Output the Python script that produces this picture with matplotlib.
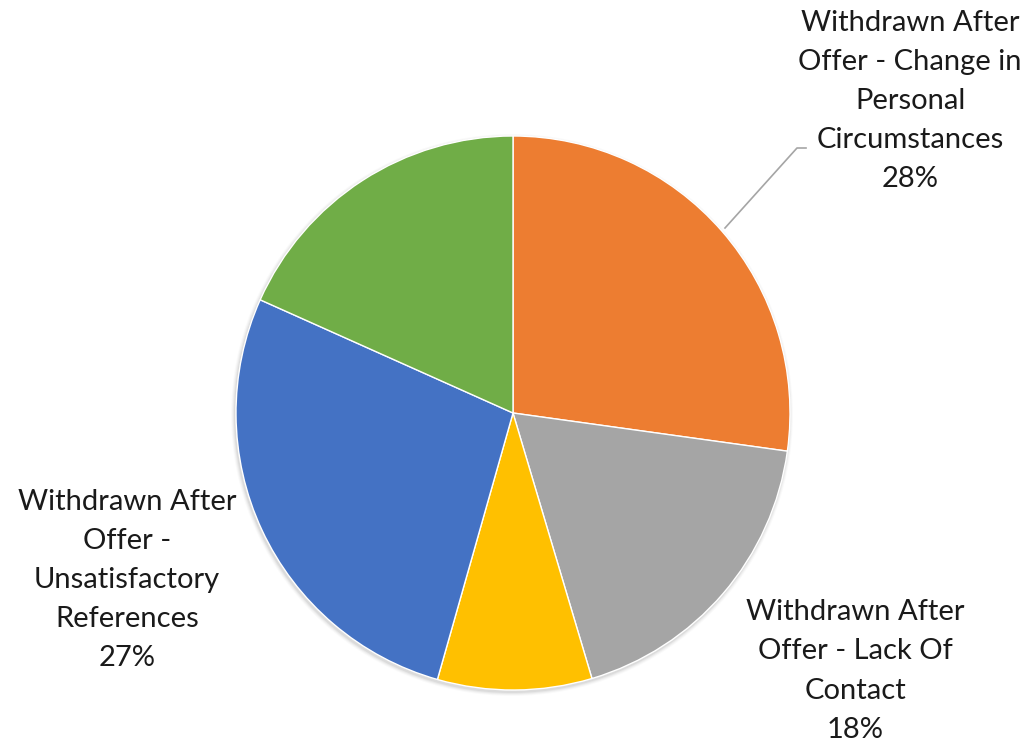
import matplotlib
matplotlib.use("Agg")
import matplotlib.pyplot as plt
from matplotlib.patches import Circle

categories = [
    "Withdrawn After\nOffer - Change in\nPersonal\nCircumstances",
    "Withdrawn After\nOffer - Lack Of\nContact",
    "Other A",
    "Withdrawn After\nOffer -\nUnsatisfactory\nReferences",
    "Other B",
]
# wedge sizes
values = [27.2, 18.2, 9.0, 27.3, 18.3]
# percentage labels as printed on the chart
pct_labels = ["28%", "18%", "", "27%", ""]
colors = ["#ED7D31", "#A5A5A5", "#FFC000", "#4472C4", "#70AD47"]

W, H = 1030, 747
fig = plt.figure(figsize=(W / 100, H / 100), dpi=100)
ax = fig.add_axes([0, 0, 1, 1])
ax.set_xlim(0, W)
ax.set_ylim(0, H)
ax.set_aspect("equal")
ax.axis("off")

cx, cy, r = 513, H - 413, 277

# faint soft shadow
for i, a in enumerate([0.05, 0.04, 0.03, 0.02]):
    ax.add_patch(Circle((cx - 1, cy - 2), r + 1 + i, color="black", alpha=a, lw=0, zorder=0))

wedges, _ = ax.pie(values, colors=colors, startangle=90, counterclock=False,
                   center=(cx, cy), radius=r,
                   wedgeprops=dict(edgecolor="white", linewidth=1.0, zorder=1))
ax.set_xlim(0, W)
ax.set_ylim(0, H)

fp = dict(family=["Lato", "DejaVu Sans"], fontsize=21, color="#1a1a1a",
          ha="center", va="center", linespacing=1.62)

ax.text(910, H - 101, categories[0] + "\n" + pct_labels[0], **fp)
ax.text(855, H - 671, categories[1] + "\n" + pct_labels[1], **fp)
ax.text(127, H - 580, categories[3] + "\n" + pct_labels[3], **fp)

# leader line for orange label
ax.plot([725, 797, 806], [H - 228, H - 148, H - 148], color="#A5A5A5", lw=1.2, zorder=2)

fig.savefig("out.png", dpi=100)
